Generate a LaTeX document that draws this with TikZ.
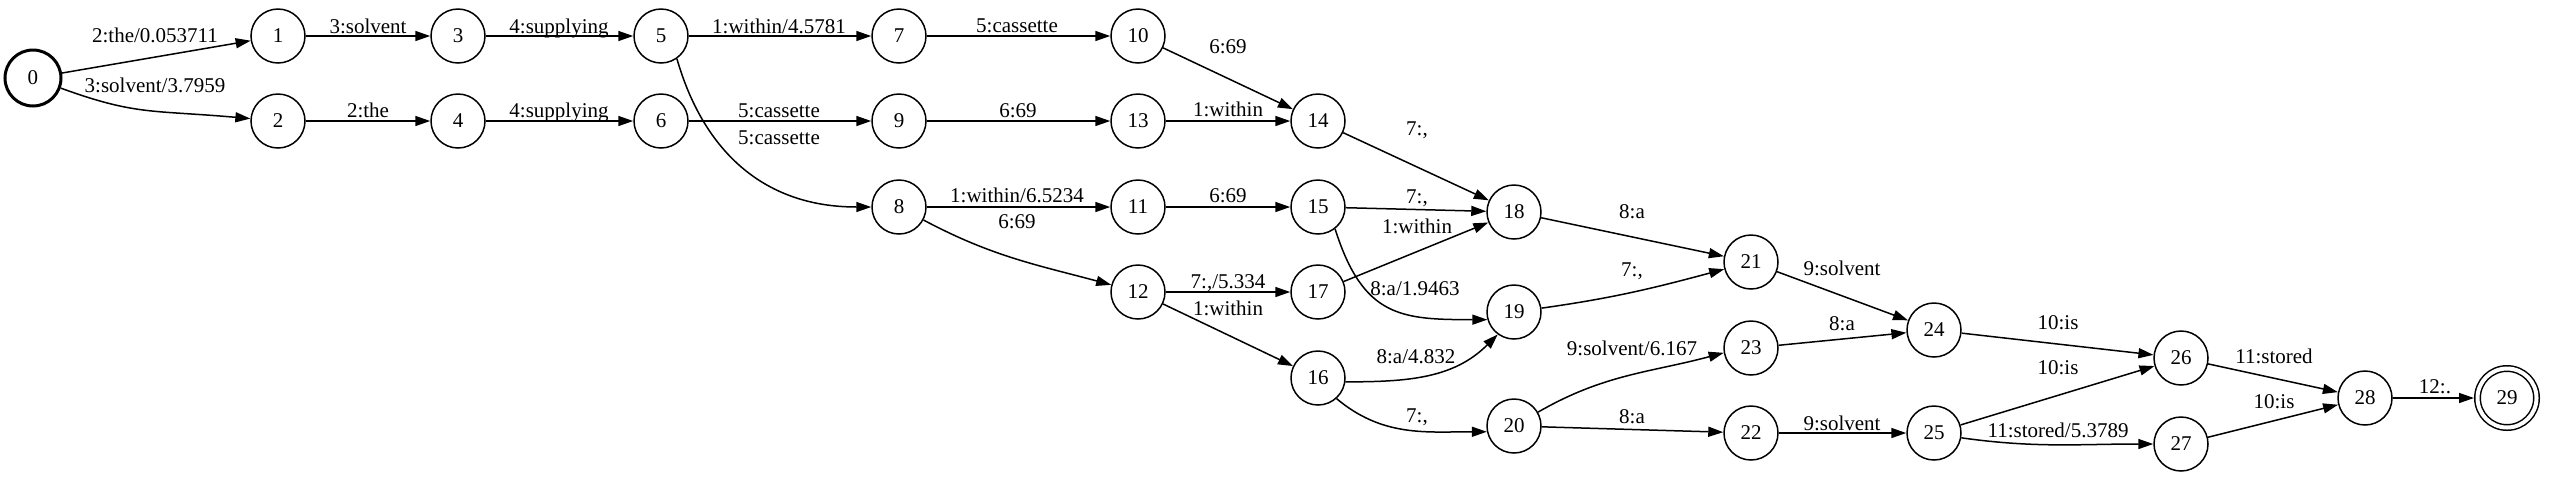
\documentclass[tikz,border=0pt]{standalone}
\usepackage{fontspec}
\setmainfont{Liberation Serif}
\usetikzlibrary{arrows.meta}
\begin{document}
\begin{tikzpicture}[x=0.5pt,y=0.5pt,
  st/.style={circle,draw,line width=0.75pt,minimum size=27pt,inner sep=0pt,font=\fontsize{10.5}{12}\selectfont},
  startst/.style={st,line width=1.5pt,minimum size=28pt},
  finalst/.style={st,double,double distance=2pt,minimum size=29.5pt,outer sep=1.75pt},
  lbl/.style={anchor=base,inner sep=0pt,font=\fontsize{10.5}{12}\selectfont},
  ed/.style={draw,line width=0.75pt,-{Triangle[length=7.5pt,width=5pt]}}]
\useasboundingbox (0,0) rectangle (2550,-478);
% states
\node[startst] (n0) at (33,-78) {0};
\node[st] (n1) at (278,-36) {1};
\node[st] (n2) at (278,-121) {2};
\node[st] (n3) at (458,-36) {3};
\node[st] (n4) at (458,-121) {4};
\node[st] (n5) at (661,-36) {5};
\node[st] (n6) at (661,-121) {6};
\node[st] (n7) at (899,-36) {7};
\node[st] (n8) at (899,-207) {8};
\node[st] (n9) at (899,-121) {9};
\node[st] (n10) at (1138,-36) {10};
\node[st] (n11) at (1138,-207) {11};
\node[st] (n12) at (1138,-292) {12};
\node[st] (n13) at (1138,-121) {13};
\node[st] (n14) at (1318,-121) {14};
\node[st] (n15) at (1318,-207) {15};
\node[st] (n16) at (1318,-378) {16};
\node[st] (n17) at (1318,-292) {17};
\node[st] (n18) at (1514,-212) {18};
\node[st] (n19) at (1514,-312) {19};
\node[st] (n20) at (1514,-426) {20};
\node[st] (n21) at (1751,-262) {21};
\node[st] (n22) at (1751,-433) {22};
\node[st] (n23) at (1751,-348) {23};
\node[st] (n24) at (1934,-330) {24};
\node[st] (n25) at (1934,-433) {25};
\node[st] (n26) at (2181,-358) {26};
\node[st] (n27) at (2181,-444) {27};
\node[st] (n28) at (2365,-398) {28};
\node[finalst] (n29) at (2507,-398) {29};
% edges
\draw[ed] (n0) -- (n1);
\draw[ed] (n0.-20) to[out=-20,in=175,out distance=40pt,in distance=50pt] (n2.175);
\draw[ed] (n1) -- (n3);
\draw[ed] (n2) -- (n4);
\draw[ed] (n3) -- (n5);
\draw[ed] (n4) -- (n6);
\draw[ed] (n5) -- (n7);
\draw[ed] (n6) -- (n9);
\draw[ed] (n5.-55) to[out=-74,in=180,out distance=46pt,in distance=55.5pt] (n8);
\draw[ed] (n7) -- (n10);
\draw[ed] (n9) -- (n13);
\draw[ed] (n10) -- (n14);
\draw[ed] (n13) -- (n14);
\draw[ed] (n8) -- (n11);
\draw[ed] (n8) to[out=-28,in=165] (n12);
\draw[ed] (n11) -- (n15);
\draw[ed] (n12) -- (n17);
\draw[ed] (n12) -- (n16);
\draw[ed] (n14) -- (n18);
\draw[ed] (n15) -- (n18);
\draw[ed] (n17) -- (n18);
\draw[ed] (n15.-52) to[out=-72.5,in=180,out distance=46.5pt,in distance=43pt] (n19.196);
\draw[ed] (n16.-8) to[out=0,in=-135] (n19.-126);
\draw[ed] (n16.-48) to[out=-40,in=180] (n20.-168);
\draw[ed] (n18) -- (n21);
\draw[ed] (n19) to[out=8,in=195] (n21);
\draw[ed] (n20.30) to[out=30,in=195] (n23.190);
\draw[ed] (n20) -- (n22);
\draw[ed] (n21) -- (n24);
\draw[ed] (n23) -- (n24);
\draw[ed] (n22) -- (n25);
\draw[ed] (n24) -- (n26);
\draw[ed] (n25) -- (n26);
\draw[ed] (n25.-10) to[out=-8,in=180] (n27);
\draw[ed] (n26) -- (n28);
\draw[ed] (n27) -- (n28);
\draw[ed] (n28) -- (n29);
% labels
\node[lbl] (l01) at (155,-42) {2:the/0.053711};
\node[lbl] (l02) at (155,-92) {3:solvent/3.7959};
\node[lbl] (l13) at (368,-33) {3:solvent};
\node[lbl] (l24) at (368,-117) {2:the};
\node[lbl] (l35) at (559,-33) {4:supplying};
\node[lbl] (l46) at (559,-117) {4:supplying};
\node[lbl] (l57) at (779,-33) {1:within/4.5781};
\node[lbl] (l69) at (779,-117) {5:cassette};
\node[lbl] (l58) at (779,-144) {5:cassette};
\node[lbl] (l710) at (1017,-32) {5:cassette};
\node[lbl] (l1014) at (1228,-53) {6:69};
\node[lbl] (l913) at (1018,-117) {6:69};
\node[lbl] (l1314) at (1228,-116) {1:within};
\node[lbl] (l811) at (1017,-202) {1:within/6.5234};
\node[lbl] (l812) at (1017,-228) {6:69};
\node[lbl] (l1115) at (1228,-202) {6:69};
\node[lbl] (l1217) at (1228,-288) {7:,/5.334};
\node[lbl] (l1216) at (1228,-315) {1:within};
\node[lbl] (l1418) at (1417,-135) {7:,};
\node[lbl] (l1518) at (1417,-203) {7:,};
\node[lbl] (l1718) at (1417,-233) {1:within};
\node[lbl] (l1519) at (1415,-295) {8:a/1.9463};
\node[lbl] (l1619) at (1416,-363) {8:a/4.832};
\node[lbl] (l1620) at (1417,-422) {7:,};
\node[lbl] (l1821) at (1632,-218) {8:a};
\node[lbl] (l1921) at (1632,-276) {7:,};
\node[lbl] (l2023) at (1632,-355) {9:solvent/6.167};
\node[lbl] (l2022) at (1632,-423) {8:a};
\node[lbl] (l2124) at (1842,-275) {9:solvent};
\node[lbl] (l2324) at (1842,-330) {8:a};
\node[lbl] (l2225) at (1842,-430) {9:solvent};
\node[lbl] (l2426) at (2058,-329) {10:is};
\node[lbl] (l2526) at (2058,-374) {10:is};
\node[lbl] (l2527) at (2058,-437) {11:stored/5.3789};
\node[lbl] (l2628) at (2274,-363) {11:stored};
\node[lbl] (l2728) at (2274,-408) {10:is};
\node[lbl] (l2829) at (2435,-393) {12:.};
\end{tikzpicture}
\end{document}
